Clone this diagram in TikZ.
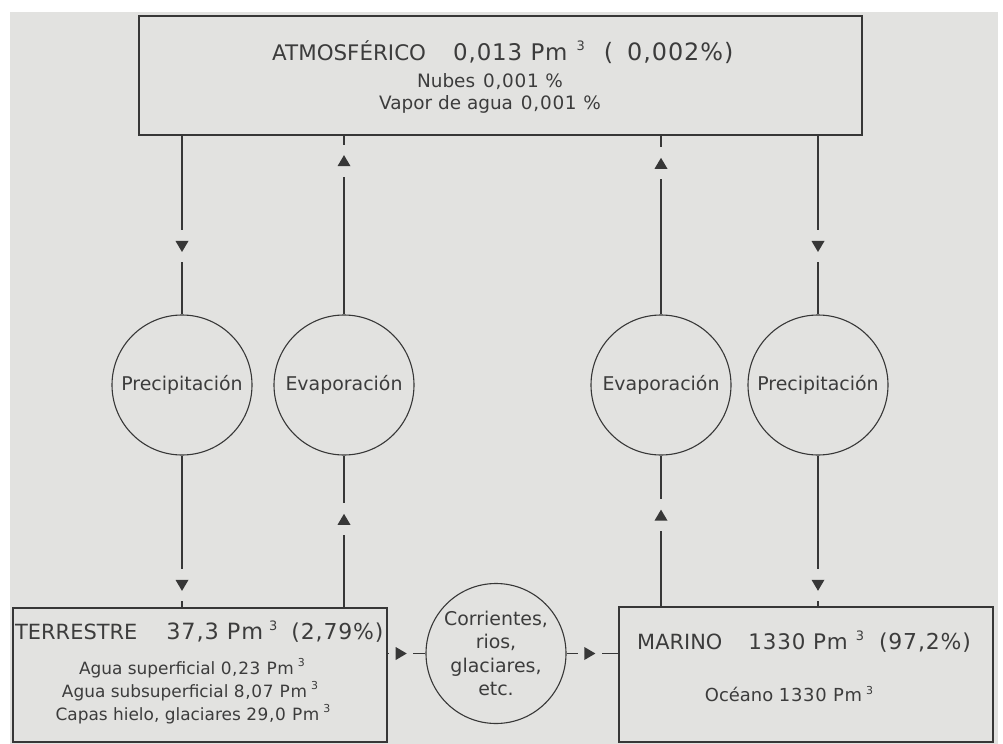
\documentclass[tikz,border=0pt]{standalone}
\usepackage{fontspec}
\setmainfont{DejaVu Sans}
\usetikzlibrary{decorations.markings}
\definecolor{bgc}{RGB}{226,226,224}
\definecolor{lc}{RGB}{55,55,55}
\definecolor{tc}{RGB}{60,60,60}
\newcommand{\fs}[1]{\fontsize{#1}{#1}\selectfont}
\newcommand{\nm}[2]{{\fs{#1}\addfontfeature{LetterSpace=4}#2}}
\newcommand{\supthree}[1]{\raisebox{0.8ex}{\fs{#1}3}}
\begin{document}
\begin{tikzpicture}[x=1bp,y=-1bp,
  box/.style={draw=lc, line width=1.2bp, rectangle, inner sep=0pt},
  circ/.style={draw=lc, line width=1.1bp, circle, minimum size=140bp, inner sep=0pt, text=tc, font=\fs{19}},
  txt/.style={text=tc, inner sep=0pt},
  flow/.style={draw=lc, line width=1.1bp, postaction={decorate},
    decoration={markings, mark=at position #1 with {
      \fill[bgc] (-16bp,-2bp) rectangle (16bp,2bp);
      \fill[lc] (5.5bp,0bp) -- (-5.5bp,6.5bp) -- (-5.5bp,-6.5bp) -- cycle;}}},
  hflow/.style={draw=lc, line width=1.1bp, postaction={decorate},
    decoration={markings, mark=at position #1 with {
      \fill[bgc] (-12bp,-2bp) rectangle (12bp,2bp);
      \fill[lc] (5.5bp,0bp) -- (-5.5bp,6.5bp) -- (-5.5bp,-6.5bp) -- cycle;}}}
]
\useasboundingbox (0,0) rectangle (1003,744);
\fill[white] (0,0) rectangle (1003,744);
\fill[bgc] (10,12) rectangle (998,744);

% boxes
\node[box, minimum width=723bp, minimum height=119bp] (atm) at (500.5,75.5) {};
\node[box, minimum width=374bp, minimum height=134bp] (ter) at (200,675) {};
\node[box, minimum width=374bp, minimum height=135bp] (mar) at (806,674.5) {};

% circles
\node[circ] (p1) at (182,385) {Precipitación};
\node[circ] (e1) at (344,385) {Evaporación};
\node[circ] (e2) at (661,385) {Evaporación};
\node[circ] (p2) at (818,385) {Precipitación};
\node[circ, font=\fontsize{19}{23.5}\selectfont, align=center] (cor) at (496,653.5) {Corrientes,\\rios,\\glaciares,\\etc.};

% texts
\node[txt, anchor=west, font=\fs{21.5}] (atmt) at (272,52) {ATMOSFÉRICO\hspace{27bp}\nm{23}{0,013 Pm}\hspace{9bp}\supthree{13}\hspace{19bp}\nm{24}{(\hspace{14bp}0,002\%)}};
\node[txt, font=\fs{18.5}] (nub) at (490,82) {Nubes\hspace{8bp}\nm{18.5}{0,001 \%}};
\node[txt, font=\fs{18.5}] (vap) at (490,104) {Vapor de agua\hspace{8bp}\nm{18.5}{0,001 \%}};

\node[txt, anchor=west, font=\fs{21}] (tert) at (15,632) {TERRESTRE\hspace{29bp}\nm{22.5}{37,3 Pm}\hspace{6bp}\supthree{13}\hspace{14bp}\nm{22}{(2,79\%)}};
\node[txt, font=\fs{17}] (ts1) at (192,668) {Agua superficial \nm{17}{0,23 Pm}\hspace{4bp}\supthree{11}};
\node[txt, font=\fs{17}] (ts2) at (190,691) {Agua subsuperficial \nm{17}{8,07 Pm}\hspace{4bp}\supthree{11}};
\node[txt, font=\fs{17}] (ts3) at (193,714) {Capas hielo, glaciares \nm{17}{29,0 Pm}\hspace{4bp}\supthree{11}};

\node[txt, anchor=west, font=\fs{21}] (mart) at (637,642) {MARINO\hspace{26bp}\nm{21.5}{1330 Pm}\hspace{8bp}\supthree{13}\hspace{15bp}\nm{22}{(97,2\%)}};
\node[txt, font=\fs{18}] (ms1) at (789,694) {Océano \nm{18}{1330 Pm}\hspace{4bp}\supthree{11}};

% connectors
\draw[flow=0.62] (p1.north |- atm.south) -- (p1.north);
\draw[flow=0.855] (p1.south) -- (p1.south |- ter.north);
\draw[flow=0.58] (e1.south |- ter.north) -- (e1.south);
\draw[flow=0.86] (e1.north) -- (e1.north |- atm.south);
\draw[flow=0.605] (e2.south |- mar.north) -- (e2.south);
\draw[flow=0.845] (e2.north) -- (e2.north |- atm.south);
\draw[flow=0.62] (p2.north |- atm.south) -- (p2.north);
\draw[flow=0.86] (p2.south) -- (p2.south |- mar.north);
\draw[hflow=0.36] (ter.east |- cor.west) -- (cor.west);
\draw[hflow=0.45] (cor.east) -- (mar.west |- cor.east);
\end{tikzpicture}
\end{document}
